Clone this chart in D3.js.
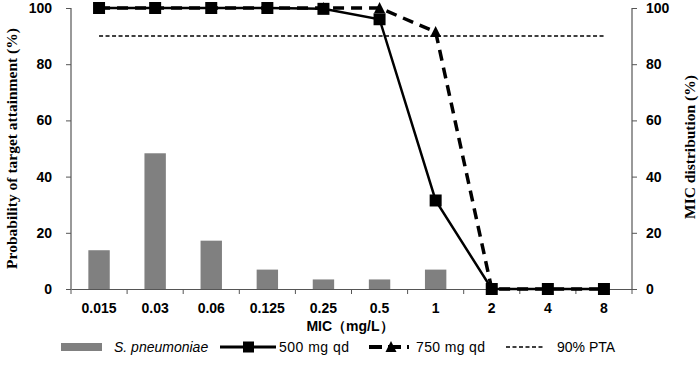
<!DOCTYPE html>
<html><head><meta charset="utf-8">
<script src="https://cdn.jsdelivr.net/npm/d3@7"></script>
<style>body{margin:0;background:#fff}svg{display:block}</style>
</head><body><div id="c"></div>
<script>
const categories = ["0.015","0.03","0.06","0.125","0.25","0.5","1","2","4","8"];
const micDist = [13.8,48.3,17.2,6.9,3.4,3.4,6.9,0,0,0];
const pta500 = [100,100,100,100,99.7,96,31.5,0,0,0];
const pta750 = [100,100,100,100,100,100,91.5,0,0,0];
const ptaTarget = 90;
const yTicks = [0,20,40,60,80,100];

const W=699,H=369, L=71, R=632, T=8, B=289;
const svg=d3.select("#c").append("svg").attr("width",W).attr("height",H);
const x=d3.scaleBand().domain(categories).range([L,R]).paddingInner(0).paddingOuter(0);
const yL=d3.scaleLinear().domain([0,100]).range([B,T]);
const yR=d3.scaleLinear().domain([0,100]).range([B,T]);
const cx=c=>x(c)+x.bandwidth()/2;
const axisCol="#555";
const tickFont="'Liberation Sans', Arial, sans-serif";

// bars
svg.append("g").selectAll("rect").data(categories.map((c,i)=>({c,v:micDist[i]})).filter(d=>d.v>0))
 .join("rect").attr("x",d=>cx(d.c)-10.7).attr("width",21.4)
 .attr("y",d=>yR(d.v)).attr("height",d=>B-yR(d.v)).attr("fill","#808080");

// axes
const gL=svg.append("g").attr("transform",`translate(${L},0)`).call(d3.axisLeft(yL).tickValues(yTicks).tickSize(5).tickPadding(14));
const gR=svg.append("g").attr("transform",`translate(${R},0)`).call(d3.axisRight(yR).tickValues(yTicks).tickSize(5).tickPadding(9));
const gX=svg.append("g").attr("transform",`translate(0,${B})`).call(d3.axisBottom(x).tickSize(0).tickPadding(14));
svg.append("g").selectAll("line").data(d3.range(categories.length+1)).join("line")
 .attr("x1",i=>L+i*x.bandwidth()).attr("x2",i=>L+i*x.bandwidth()).attr("y1",B).attr("y2",B+5)
 .attr("stroke",axisCol).attr("stroke-width",1);
[gL,gR,gX].forEach(g=>{
 g.selectAll(".domain").attr("stroke",axisCol).attr("stroke-width",1.2);
 g.selectAll(".tick line").attr("stroke",axisCol);
 g.selectAll("text").attr("font-family",tickFont).attr("font-weight","bold").attr("font-size",14).attr("fill","#000");
});
gL.select(".domain").attr("d",`M0,${T}V${B}`);
gR.select(".domain").attr("d",`M0,${T}V${B}`);

// PTA target line
svg.append("line").attr("x1",cx(categories[0])).attr("x2",cx(categories[categories.length-1]))
 .attr("y1",yL(ptaTarget)).attr("y2",yL(ptaTarget)).attr("stroke","#000").attr("stroke-width",1.5).attr("stroke-dasharray","4,2.5");

const line=d3.line().x((d,i)=>cx(categories[i])).y(d=>yL(d));
const triPath="M0,-6L5.5,5L-5.5,5Z";
// 750 series
svg.append("path").datum(pta750).attr("d",line).attr("fill","none").attr("stroke","#000").attr("stroke-width",3.5).attr("stroke-dasharray","11,7");
svg.append("g").selectAll("path").data(pta750).join("path").attr("d",triPath)
 .attr("transform",(d,i)=>`translate(${cx(categories[i])},${yL(d)})`).attr("fill","#000");
// 500 series
svg.append("path").datum(pta500).attr("d",line).attr("fill","none").attr("stroke","#000").attr("stroke-width",2.5);
svg.append("g").selectAll("rect").data(pta500).join("rect")
 .attr("x",(d,i)=>cx(categories[i])-6).attr("y",d=>yL(d)-6).attr("width",12).attr("height",12).attr("fill","#000");

// axis titles
svg.append("text").attr("transform",`translate(17,${(T+B)/2}) rotate(-90)`).attr("text-anchor","middle")
 .attr("font-family","'Liberation Serif','Times New Roman',serif").attr("font-weight","bold").attr("font-size",15.5).text("Probability of target attainment (%)");
svg.append("text").attr("transform",`translate(695,147) rotate(-90)`).attr("text-anchor","middle")
 .attr("font-family","'Liberation Serif','Times New Roman',serif").attr("font-weight","bold").attr("font-size",15.5).text("MIC distribution (%)");
svg.append("text").attr("x",350).attr("y",331).attr("text-anchor","middle")
 .attr("font-family",tickFont).attr("font-weight","bold").attr("font-size",14).text("MIC（mg/L）");

// legend
const ly=347, lf="'Liberation Sans', Arial, sans-serif";
const lg=svg.append("g");
lg.append("rect").attr("x",61).attr("y",ly-4).attr("width",41).attr("height",8).attr("fill","#808080");
lg.append("text").attr("x",114).attr("y",ly+5).attr("font-family",lf).attr("font-size",14).attr("font-style","italic").text("S. pneumoniae");
lg.append("line").attr("x1",220).attr("x2",276).attr("y1",ly).attr("y2",ly).attr("stroke","#000").attr("stroke-width",3);
lg.append("rect").attr("x",243).attr("y",ly-5.5).attr("width",11).attr("height",11).attr("fill","#000");
lg.append("text").attr("x",279).attr("y",ly+5).attr("font-family",lf).attr("font-size",14).attr("textLength",70).text("500 mg qd");
lg.append("line").attr("x1",369).attr("x2",409).attr("y1",ly).attr("y2",ly).attr("stroke","#000").attr("stroke-width",4).attr("stroke-dasharray","13,6");
lg.append("path").attr("d",triPath).attr("transform",`translate(391,${ly})`).attr("fill","#000");
lg.append("text").attr("x",416).attr("y",ly+5).attr("font-family",lf).attr("font-size",14).attr("textLength",69).text("750 mg qd");
lg.append("line").attr("x1",506).attr("x2",543).attr("y1",ly).attr("y2",ly).attr("stroke","#000").attr("stroke-width",1.5).attr("stroke-dasharray","4,2.5");
lg.append("text").attr("x",557).attr("y",ly+5).attr("font-family",lf).attr("font-size",14).text("90% PTA");
</script></body></html>
